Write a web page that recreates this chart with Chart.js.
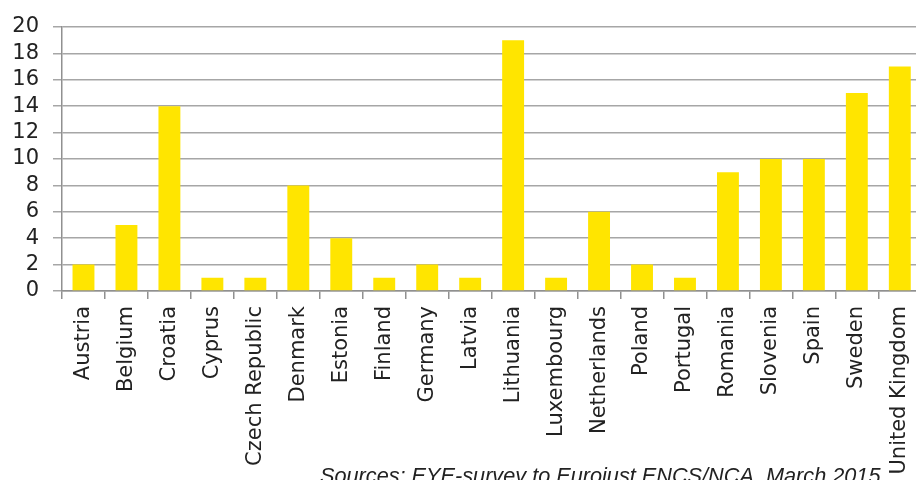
<!DOCTYPE html>
<html>
<head>
<meta charset="utf-8">
<script src="https://cdn.jsdelivr.net/npm/chart.js@4/dist/chart.umd.min.js"></script>
<style>
  html, body { margin: 0; padding: 0; background: #fff; overflow: hidden; }
  #wrap { position: relative; width: 916px; height: 480px; overflow: hidden; }
  #box { position: absolute; left: 0; top: 0; width: 932px; height: 480px; }
  #src { position: absolute; left: 320px; top: 465px; font: italic 21.7px "Liberation Sans", Arial, sans-serif; line-height: 21px; color: #222; white-space: nowrap; }
</style>
</head>
<body>
<div id="wrap">
  <div id="box"><canvas id="c" width="932" height="480"></canvas></div>
  <div id="src">Sources: EYE-survey to Eurojust ENCS/NCA, March 2015</div>
</div>
<script>
const categories = ["Austria","Belgium","Croatia","Cyprus","Czech Republic","Denmark","Estonia","Finland","Germany","Latvia","Lithuania","Luxembourg","Netherlands","Poland","Portugal","Romania","Slovenia","Spain","Sweden","United Kingdom"];
const values = [2,5,14,1,1,8,4,1,2,1,19,1,6,2,1,9,10,10,15,17];
const yTicks = [0,2,4,6,8,10,12,14,16,18,20];

new Chart(document.getElementById('c'), {
  type: 'bar',
  data: {
    labels: categories,
    datasets: [{
      data: values,
      backgroundColor: '#FFE500',
      borderWidth: 0,
      categoryPercentage: 1,
      barPercentage: 0.51
    }]
  },
  options: {
    responsive: false,
    animation: false,
    devicePixelRatio: 1,
    layout: { padding: { top: 27, right: 0, bottom: 0, left: 0 } },
    plugins: { legend: { display: false }, tooltip: { enabled: false } },
    scales: {
      x: {
        grid: { display: true, drawOnChartArea: false, drawTicks: true, tickLength: 8, offset: true, color: '#909090', lineWidth: 1.5 },
        border: { display: true, color: '#909090', width: 1.5 },
        ticks: { color: '#222', font: { family: 'DejaVu Sans', size: 21 }, minRotation: 90, maxRotation: 90, padding: 7, autoSkip: false },
        afterFit: (s) => { s.height = 189; }
      },
      y: {
        min: 0, max: 20,
        afterBuildTicks: (s) => { s.ticks = yTicks.map(v => ({ value: v })); },
        grid: { color: '#a6a6a6', lineWidth: 1.5, drawTicks: true, tickLength: 9 },
        border: { display: true, color: '#909090', width: 1.5 },
        ticks: { color: '#222', font: { family: 'DejaVu Sans', size: 21 }, padding: 14, autoSkip: false },
        afterFit: (s) => { s.width = 62; }
      }
    }
  }
});
</script>
</body>
</html>
